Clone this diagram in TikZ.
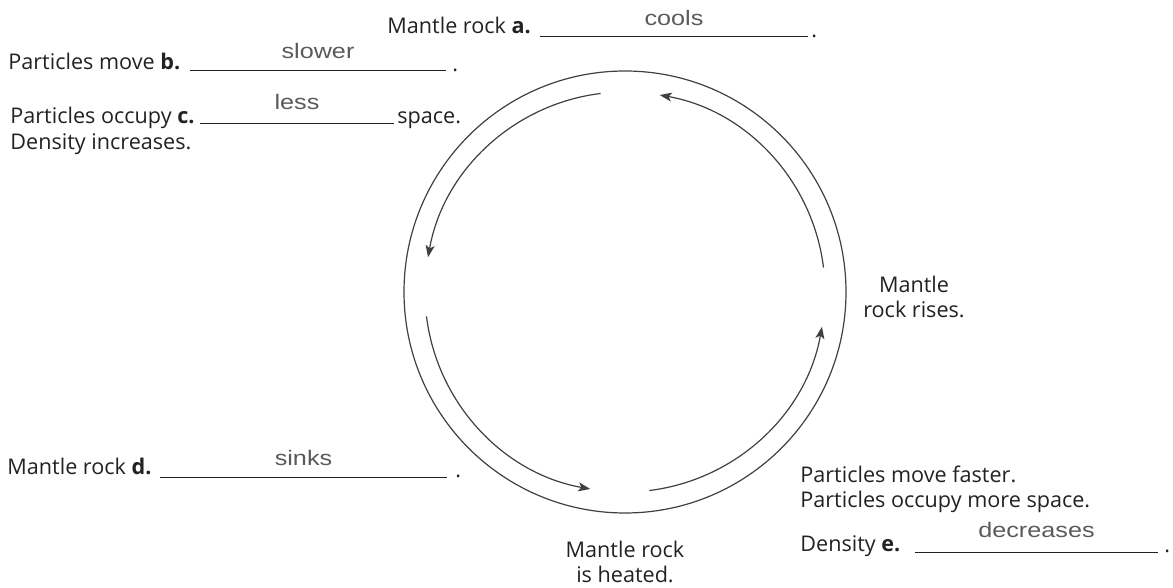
\documentclass[tikz,border=0pt]{standalone}
\usepackage{fontspec}
\setmainfont{Open Sans}
\newfontfamily\ansfont[FakeStretch=1.2]{Liberation Sans}
\definecolor{inkgray}{HTML}{222222}
\definecolor{pencil}{HTML}{5A5A5A}
\usetikzlibrary{positioning,arrows.meta,calc}

\begin{document}
\begin{tikzpicture}[x=0.5pt,y=0.5pt,
    every node/.style={inner sep=0pt,text=inkgray,font=\fontsize{10.8}{12.5}\selectfont},
    txt/.style={anchor=base west},
    ans/.style={anchor=base,text=pencil,font=\ansfont\fontsize{10.5}{12}\selectfont},
    blank/.style={draw=inkgray,line width=0.5pt},
    flow/.style={draw=black!75,line width=0.6pt,-{Stealth[length=6pt,width=4.5pt,inset=1.5pt]}}]
  \useasboundingbox (0,0) rectangle (1173,588);
  \coordinate (c) at (625,296);
  % cycle
  \draw[black!75,line width=0.6pt] (c) circle[radius=110.5pt];
  \foreach \a in {7,97,187,277}
    \draw[flow] ([shift={(\a:100pt)}]c) arc[start angle=\a,end angle=\a+73,radius=100pt];
  % stage labels
  \node[align=center,anchor=north] (heat) at (625,47) {Mantle rock\\is heated.};
  \node[align=center,anchor=north] (rise) at (914,312) {Mantle\\rock rises.};
  % a. cooling at the top
  \node[txt] (ta) at (387,554) {Mantle rock \textbf{a.}};
  \draw[blank] (540,551) coordinate (a0) -- (808,551) coordinate (a1);
  \node[txt] (da) at (811,550) {.};
  \node[ans] (cools) at ($(a0)!0.5!(a1)+(0,11)$) {cools};
  % b. and c. on the left
  \node[txt] (tb) at (8,518) {Particles move \textbf{b.}};
  \draw[blank] (190,517) coordinate (b0) -- (446,517) coordinate (b1);
  \node[txt] (db) at (452,516) {.};
  \node[ans] (slower) at ($(b0)!0.5!(b1)+(0,12)$) {slower};
  \node[txt] (tc) at (10,464) {Particles occupy \textbf{c.}};
  \draw[blank] (200,464) coordinate (c0) -- (394,464) coordinate (c1);
  \node[txt] (sp) at (397,464) {space.};
  \node[ans] (less) at ($(c0)!0.5!(c1)+(0,14)$) {less};
  \node[txt] (dens) at (10,438) {Density increases.};
  % d. sinking
  \node[txt] (td) at (7,113) {Mantle rock \textbf{d.}};
  \draw[blank] (160,110) coordinate (d0) -- (447,110) coordinate (d1);
  \node[txt] (dd) at (455,110) {.};
  \node[ans] (sinks) at ($(d0)!0.5!(d1)+(0,12)$) {sinks};
  % e. heating on the right
  \node[txt] (fast) at (800,105) {Particles move faster.};
  \node[txt] (more) at (800,80) {Particles occupy more space.};
  \node[txt] (te) at (800,36) {Density \textbf{e.}};
  \draw[blank] (915,35) coordinate (e0) -- (1158,35) coordinate (e1);
  \node[txt] (de) at (1164,35) {.};
  \node[ans] (decr) at ($(e0)!0.5!(e1)+(0,15)$) {decreases};
\end{tikzpicture}
\end{document}
